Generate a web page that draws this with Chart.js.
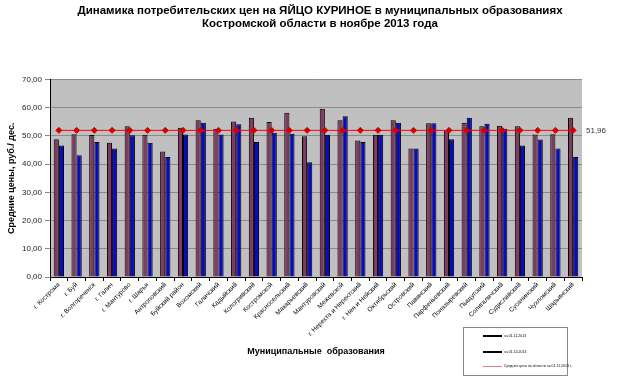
<!DOCTYPE html>
<html>
<head>
<meta charset="utf-8">
<script src="https://cdn.jsdelivr.net/npm/chart.js@4/dist/chart.umd.min.js"></script>
<style>
    body { margin: 0; background: #fff; }
    #wrap { position: relative; width: 640px; height: 392px; }
    #legendBox {
        position: absolute; left: 463px; top: 327px; width: 103px; height: 47px;
        border: 1px solid #888; background: #fff; font-family: "Liberation Sans", Arial, sans-serif;
        font-size: 3.5px; color: #000;
    }
    .item { position: absolute; left: 19px; height: 4px; line-height: 4px; white-space: nowrap; }
    .item span.sw { display: inline-block; width: 19px; height: 2px; vertical-align: middle; margin-right: 2px; }
</style>
</head>
<body>
<div id="wrap">
    <canvas id="myChart" width="640" height="392"></canvas>
    <div id="legendBox">
        <div class="item" style="top:6px"><span class="sw" style="background:#000"></span>на 01.11.2013</div>
        <div class="item" style="top:22px"><span class="sw" style="background:#000"></span>на 01.10.2013</div>
        <div class="item" style="top:36px"><span class="sw" style="background:#e08080;height:1px"></span>Средняя цена по области на 01.11.2013 г.</div>
    </div>
</div>
<script>
// Data
const districts = ['г. Кострома', 'г. Буй', 'г. Волгореченск', 'г. Галич', 'г. Мантурово', 'г. Шарья',
    'Антроповский', 'Буйский район', 'Вохомский', 'Галичский', 'Кадыйский', 'Кологривский',
    'Костромской', 'Красносельский', 'Макарьевский', 'Мантуровский', 'Межевской',
    'г. Нерехта и Нерехтский', 'г. Нея и Нейский', 'Октябрьский', 'Островский', 'Павинский',
    'Парфеньевский', 'Поназыревский', 'Пыщугский', 'Солигаличский', 'Судиславский',
    'Сусанинский', 'Чухломский', 'Шарьинский'];

const priceOct = [48.8, 50.6, 50.3, 47.6, 53.4, 50.4, 44.5, 52.9, 55.5, 52.5, 55.1, 56.4,
    54.9, 58.2, 49.9, 59.6, 55.5, 48.4, 50.4, 55.5, 45.5, 54.5,
    51.9, 54.7, 53.4, 53.6, 53.4, 50.5, 50.6, 56.4];

const priceNov = [46.6, 43.1, 47.8, 45.5, 50.2, 47.6, 42.5, 50.5, 54.7, 50.5, 54.1, 47.8,
    51.1, 50.8, 40.7, 50.4, 57.0, 47.8, 50.4, 54.7, 45.5, 54.5,
    48.8, 56.4, 54.3, 52.5, 46.6, 48.7, 45.5, 42.5];

const avgPrice = 51.96;
const avgLine = districts.map(() => avgPrice);

// plot background + label for average
const plotBg = {
    id: 'plotBg',
    beforeDraw(chart) {
        const { ctx, chartArea: a } = chart;
        ctx.save();
        ctx.fillStyle = '#C0C0C0';
        ctx.fillRect(a.left, a.top, a.right - a.left, a.bottom - a.top);
        ctx.restore();
    },
    afterDraw(chart) {
        const { ctx, chartArea: a } = chart;
        const y = chart.scales.y.getPixelForValue(avgPrice);
        ctx.save();
        ctx.fillStyle = '#333';
        ctx.font = '8px "Liberation Sans", Arial, sans-serif';
        ctx.textBaseline = 'middle';
        ctx.fillText('51,96', a.right + 4, y);
        ctx.restore();
    }
};

const ctx = document.getElementById('myChart').getContext('2d');

const myChart = new Chart(ctx, {
    type: 'bar',
    data: {
        labels: districts,
        datasets: [{
            type: 'line',
            label: 'Средняя цена по области',
            data: avgLine,
            borderColor: '#FF0000',
            borderWidth: 1,
            pointStyle: 'rectRot',
            pointRadius: 3,
            pointBackgroundColor: '#D00000',
            pointBorderColor: '#D00000',
            order: 0
        }, {
            label: 'на 01.10.2013',
            data: priceOct,
            backgroundColor: '#7E3A60',
            borderColor: '#000',
            borderWidth: 1,
            categoryPercentage: 0.58,
            barPercentage: 1,
            order: 1
        }, {
            label: 'на 01.11.2013',
            data: priceNov,
            backgroundColor: '#0A0ABE',
            borderColor: '#000',
            borderWidth: 1,
            categoryPercentage: 0.58,
            barPercentage: 1,
            order: 1
        }]
    },
    options: {
        responsive: false,
        animation: false,
        layout: { padding: { left: 0, right: 0, top: 0, bottom: 35 } },
        plugins: {
            legend: { display: false },
            tooltip: { enabled: false },
            title: {
                display: true,
                text: ['Динамика потребительских цен на ЯЙЦО КУРИНОЕ в муниципальных образованиях',
                    'Костромской области в ноябре 2013 года'],
                font: { family: '"Liberation Sans", Arial, sans-serif', size: 11.5, weight: 'bold', lineHeight: 1.15 },
                color: '#000',
                padding: { top: 4, bottom: 49 }
            }
        },
        scales: {
            x: {
                grid: { drawOnChartArea: false, tickLength: 4, color: '#000', offset: true },
                border: { color: '#000' },
                ticks: {
                    minRotation: 45, maxRotation: 45, autoSkip: false, padding: 0,
                    color: '#000',
                    font: { family: '"Liberation Sans", Arial, sans-serif', size: 6.5 }
                },
                title: {
                    display: true,
                    text: 'Муниципальные  образования',
                    color: '#000',
                    font: { family: '"Liberation Sans", Arial, sans-serif', size: 9, weight: 'bold' },
                    padding: 0
                },
                afterFit(scale) { scale.height = 80; }
            },
            y: {
                min: 0, max: 70,
                ticks: {
                    stepSize: 10, padding: 3, color: '#222',
                    font: { family: '"Liberation Sans", Arial, sans-serif', size: 8 },
                    callback: (v) => v.toFixed(2).replace('.', ',')
                },
                grid: { color: '#8A8A8A', tickLength: 5 },
                border: { color: '#000' },
                title: {
                    display: true,
                    text: 'Средние цены, руб./ дес.',
                    color: '#000',
                    font: { family: '"Liberation Sans", Arial, sans-serif', size: 9, weight: 'bold' },
                    padding: { top: 6 }
                },
                afterFit(scale) { scale.width = 50; }
            },
            // empty right axis, only reserves room for the "51,96" label
            yRight: {
                position: 'right',
                min: 0, max: 70,
                grid: { display: false },
                border: { display: false },
                ticks: { display: false },
                afterFit(scale) { scale.width = 58; }
            }
        }
    },
    plugins: [plotBg]
});
</script>
</body>
</html>
